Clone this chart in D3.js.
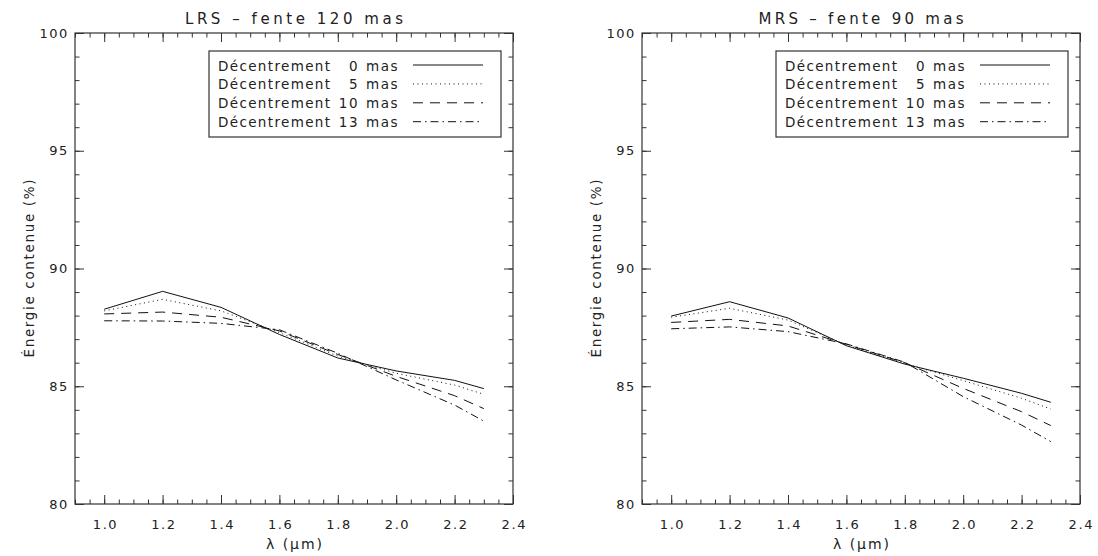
<!DOCTYPE html>
<html><head><meta charset="utf-8">
<script src="https://cdn.jsdelivr.net/npm/d3@7"></script>
<style>
body{margin:0;background:#fff;}
text{font-family:"DejaVu Sans",sans-serif;fill:#222;}
</style></head>
<body><svg id="c" width="1098" height="556"></svg>
<script>
const wavelengths = [1.0, 1.2, 1.4, 1.6, 1.8, 2.0, 2.2, 2.3];
const offsets = [0, 5, 10, 13];
const lrs0  = [88.27, 89.03, 88.35, 87.20, 86.20, 85.65, 85.25, 84.90];
const lrs5  = [88.20, 88.69, 88.20, 87.28, 86.28, 85.55, 85.05, 84.66];
const lrs10 = [88.07, 88.15, 87.93, 87.35, 86.35, 85.42, 84.60, 84.05];
const lrs13 = [87.78, 87.77, 87.67, 87.40, 86.40, 85.27, 84.20, 83.52];
const mrs0  = [87.98, 88.59, 87.90, 86.72, 85.94, 85.34, 84.70, 84.32];
const mrs5  = [87.93, 88.31, 87.81, 86.75, 85.97, 85.24, 84.49, 84.03];
const mrs10 = [87.71, 87.84, 87.56, 86.78, 86.00, 84.91, 83.92, 83.33];
const mrs13 = [87.44, 87.52, 87.32, 86.80, 86.02, 84.56, 83.35, 82.65];
const xTickLabels = [1.0, 1.2, 1.4, 1.6, 1.8, 2.0, 2.2, 2.4];
const yTickLabels = [80, 85, 90, 95, 100];
const titles = ["LRS \u2013 fente 120 mas", "MRS \u2013 fente 90 mas"];
const xTitle = "\u03bb (\u03bcm)";
const yTitle = "\u00c9nergie contenue (%)";
const legendPrefix = "D\u00e9centrement";

const dashes = [null, "1,3.5", "10,7", "8,4,1.5,4"];
const panels = [
  {left: 75, title: titles[0], tlen: 218, series: [lrs0, lrs5, lrs10, lrs13]},
  {left: 642, title: titles[1], tlen: 205, series: [mrs0, mrs5, mrs10, mrs13]}
];
const W = 438, yTop = 33, yBot = 504;
const svg = d3.select("#c");

panels.forEach(p => {
  const x = d3.scaleLinear().domain([0.9, 2.4]).range([p.left, p.left + W]);
  const y = d3.scaleLinear().domain([80, 100]).range([yBot, yTop]);
  const g = svg.append("g");
  const xMinor = d3.range(0, 31).map(i => +(0.9 + i * 0.05).toFixed(2));
  const yMinor = d3.range(80, 101);
  const axStyle = sel => { sel.select(".domain").remove(); sel.selectAll("line").attr("stroke", "#333"); };
  const txtStyle = s => s.selectAll("text").attr("font-size", 13).attr("fill", "#222")
    .attr("font-family", "DejaVu Sans").attr("letter-spacing", 1.6);
  // bottom
  g.append("g").attr("transform", `translate(0,${yBot})`)
    .call(d3.axisBottom(x).tickValues(xMinor).tickSize(-4.5).tickFormat("")).call(axStyle);
  g.append("g").attr("transform", `translate(0,${yBot})`)
    .call(d3.axisBottom(x).tickValues(xTickLabels).tickSize(-9).tickPadding(16).tickFormat(d3.format(".1f")))
    .call(axStyle).call(txtStyle)
    .call(s => s.selectAll("text").attr("dx", 0.8));
  // top
  g.append("g").attr("transform", `translate(0,${yTop})`)
    .call(d3.axisTop(x).tickValues(xMinor).tickSize(-4.5).tickFormat("")).call(axStyle);
  g.append("g").attr("transform", `translate(0,${yTop})`)
    .call(d3.axisTop(x).tickValues(xTickLabels).tickSize(-9).tickFormat("")).call(axStyle);
  // left
  g.append("g").attr("transform", `translate(${p.left},0)`)
    .call(d3.axisLeft(y).tickValues(yMinor).tickSize(-4.5).tickFormat("")).call(axStyle);
  g.append("g").attr("transform", `translate(${p.left},0)`)
    .call(d3.axisLeft(y).tickValues(yTickLabels).tickSize(-9).tickPadding(6).tickFormat(d3.format("d")))
    .call(axStyle).call(txtStyle);
  // right
  g.append("g").attr("transform", `translate(${p.left + W},0)`)
    .call(d3.axisRight(y).tickValues(yMinor).tickSize(-4.5).tickFormat("")).call(axStyle);
  g.append("g").attr("transform", `translate(${p.left + W},0)`)
    .call(d3.axisRight(y).tickValues(yTickLabels).tickSize(-9).tickFormat("")).call(axStyle);
  // frame
  g.append("rect").attr("x", p.left).attr("y", yTop).attr("width", W).attr("height", yBot - yTop)
    .attr("fill", "none").attr("stroke", "#333").attr("stroke-width", 1.2);

  // lines
  const line = d3.line().x((d, i) => x(wavelengths[i])).y(d => y(d));
  p.series.forEach((s, k) => {
    g.append("path").datum(s).attr("d", line).attr("fill", "none")
      .attr("stroke", "#111").attr("stroke-width", 1)
      .attr("stroke-dasharray", dashes[k]);
  });

  // titles
  g.append("text").attr("x", p.left + W / 2).attr("y", 24).attr("text-anchor", "middle")
    .attr("font-size", 15).attr("textLength", p.tlen).attr("lengthAdjust", "spacing").text(p.title);
  g.append("text").attr("x", p.left + W / 2).attr("y", 549).attr("text-anchor", "middle")
    .attr("font-size", 14).attr("textLength", 56).attr("lengthAdjust", "spacing").text(xTitle);
  g.append("text").attr("transform", `translate(${p.left - 41},${(yTop + yBot) / 2}) rotate(-90)`)
    .attr("text-anchor", "middle").attr("font-size", 13.5)
    .attr("textLength", 178).attr("lengthAdjust", "spacing").text(yTitle);

  // legend
  const lx = p.left + 134, ly = 51, lw = 292, lh = 86;
  g.append("rect").attr("x", lx).attr("y", ly).attr("width", lw).attr("height", lh)
    .attr("fill", "#fff").attr("stroke", "#333").attr("stroke-width", 1.2);
  offsets.forEach((o, k) => {
    const yy = 65 + k * 18.9;
    g.append("text").attr("x", lx + 9).attr("y", yy + 5.5).attr("font-size", 13.5)
      .attr("textLength", 112).attr("lengthAdjust", "spacing").text(legendPrefix);
    g.append("text").attr("x", lx + 150).attr("y", yy + 5.5).attr("font-size", 13.5)
      .attr("letter-spacing", 1.5).attr("text-anchor", "end").text(o);
    g.append("text").attr("x", lx + 157).attr("y", yy + 5.5).attr("font-size", 13.5)
      .attr("letter-spacing", 1.5).text("mas");
    g.append("line").attr("x1", lx + 204).attr("x2", lx + 274).attr("y1", yy).attr("y2", yy)
      .attr("stroke", "#111").attr("stroke-width", 1).attr("stroke-dasharray", dashes[k]);
  });
});
</script></body></html>
